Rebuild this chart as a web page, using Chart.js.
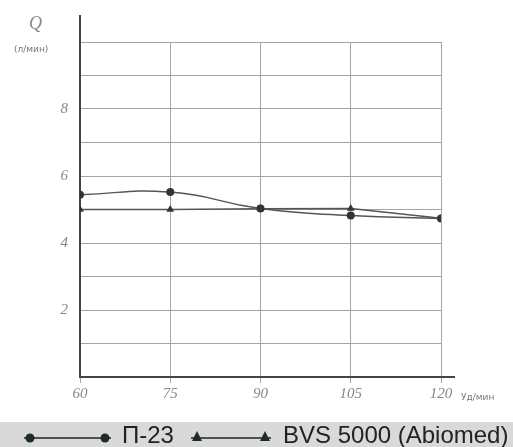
<!DOCTYPE html>
<html>
<head>
<meta charset="utf-8">
<script src="https://cdn.jsdelivr.net/npm/chart.js@4"></script>
<style>
  html, body { margin:0; padding:0; background:#fff; }
  #wrap { position:relative; width:513px; height:447px; overflow:hidden; }
  #c { position:absolute; left:0; top:0; }
  .lbl { position:absolute; color:#888; white-space:nowrap; }
  #q { left:29px; top:13px; font:italic 18px "Liberation Serif", serif; }
  #qu { left:14px; top:44px; font:9px "DejaVu Sans", sans-serif; color:#777; }
  #xu { left:461px; top:392px; font:9px "DejaVu Sans", sans-serif; color:#777; }
  #legend { position:absolute; left:0; top:422px; width:513px; height:25px; background:#d9d9d9;
            font:24px "Liberation Sans", Arial, sans-serif; color:#222; }
  #legend .item { position:absolute; top:0; height:25px; line-height:25px; }
  #legend svg { position:absolute; top:0; }
</style>
</head>
<body>
<div id="wrap">
  <canvas id="c" width="513" height="422"></canvas>
  <div class="lbl" id="q">Q</div>
  <div class="lbl" id="qu">(л/мин)</div>
  <div class="lbl" id="xu">Уд/мин</div>
  <div id="legend"></div>
</div>
<script>
// ---- data ----
const heartRates = [60, 75, 90, 105, 120];          // Уд/мин
const p23Flow = [5.44, 5.52, 5.03, 4.82, 4.73];     // П-23, л/мин
const bvsFlow = [5.0, 5.0, 5.02, 5.03, 4.74];       // BVS 5000 (Abiomed), л/мин
const xTickLabels = [60, 75, 90, 105, 120];
const yTickLabels = [2, 4, 6, 8];
const seriesNames = ['П-23', 'BVS 5000 (Abiomed)'];

const toPts = (xs, ys) => xs.map((x, i) => ({x: x, y: ys[i]}));

const axisExtend = {
  id: 'axisExtend',
  afterDraw(chart) {
    const {ctx, chartArea: a} = chart;
    ctx.save();
    ctx.strokeStyle = '#444';
    ctx.lineWidth = 2;
    ctx.beginPath();
    ctx.moveTo(a.left, a.top);
    ctx.lineTo(a.left, a.top - 27);
    ctx.moveTo(a.right, a.bottom);
    ctx.lineTo(a.right + 14, a.bottom);
    ctx.stroke();
    ctx.restore();
  }
};

const tickFont = { family: '"Liberation Serif", serif', style: 'italic', size: 15 };

const chart = new Chart(document.getElementById('c'), {
  type: 'line',
  data: {
    datasets: [
      {
        label: seriesNames[0],
        data: toPts(heartRates, p23Flow),
        borderColor: '#555',
        backgroundColor: '#333',
        borderWidth: 1.5,
        pointStyle: 'circle',
        pointRadius: 4,
        pointBorderWidth: 0,
        tension: 0.5
      },
      {
        label: seriesNames[1],
        data: toPts(heartRates, bvsFlow),
        borderColor: '#555',
        backgroundColor: '#333',
        borderWidth: 1.5,
        pointStyle: 'triangle',
        pointRadius: 4.5,
        pointBorderWidth: 0,
        tension: 0
      }
    ]
  },
  options: {
    responsive: false,
    animation: false,
    layout: { padding: { top: 42, left: 0, right: 72, bottom: 0 } },
    plugins: { legend: { display: false }, tooltip: { enabled: false } },
    scales: {
      x: {
        type: 'linear',
        min: 60, max: 120,
        afterBuildTicks: s => { s.ticks = xTickLabels.map(v => ({value: v})); },
        afterFit: s => { s.height = 45; },
        grid: { color: '#a4a4a4', lineWidth: 1, tickLength: 6, drawTicks: true },
        border: { color: '#444', width: 2 },
        ticks: { color: '#888', font: tickFont, padding: 2, maxRotation: 0 }
      },
      y: {
        min: 0, max: 10,
        afterBuildTicks: s => { s.ticks = [0,1,2,3,4,5,6,7,8,9,10].map(v => ({value: v})); },
        afterFit: s => { s.width = 80; },
        grid: { color: '#a4a4a4', lineWidth: 1, drawTicks: false },
        border: { color: '#444', width: 2 },
        ticks: {
          color: '#888', font: tickFont, padding: 12,
          callback: v => yTickLabels.includes(v) ? String(v) : ''
        }
      }
    }
  },
  plugins: [axisExtend]
});

// ---- HTML legend ----
const lg = document.getElementById('legend');
const symbol = (kind, x0, x1) => {
  const w = x1 - x0 + 12;
  const mk = (cx) => kind === 'circle'
    ? `<circle cx="${cx}" cy="16" r="4.5" fill="#1f2a2a"/>`
    : `<polygon points="${cx},9 ${cx-5},19 ${cx+5},19" fill="#1f2a2a"/>`;
  return `<svg width="${w}" height="25" style="left:${x0-6}px">
    <line x1="0" y1="16" x2="${w}" y2="16" stroke="#222" stroke-width="1.5"/>
    ${mk(6)}${mk(w-6)}</svg>`;
};
lg.innerHTML =
  symbol('circle', 30, 105) +
  `<span class="item" style="left:122px">${chart.data.datasets[0].label}</span>` +
  symbol('triangle', 197, 265) +
  `<span class="item" style="left:283px">${chart.data.datasets[1].label}</span>`;
</script>
</body>
</html>
